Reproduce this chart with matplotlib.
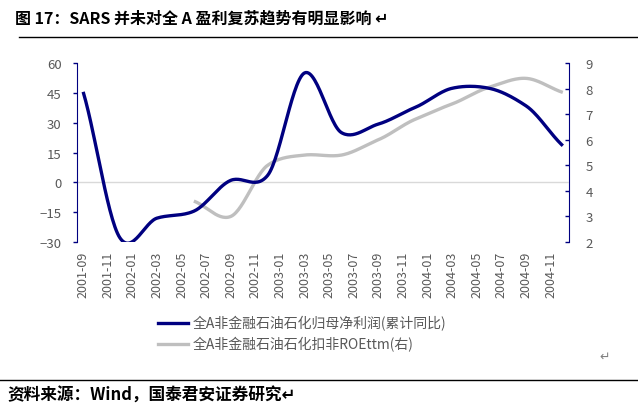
import numpy as np
import matplotlib.pyplot as plt
from matplotlib.lines import Line2D

plt.rcParams['font.family'] = ['Noto Sans CJK SC', 'DejaVu Sans']

## Donnees

mois = ["2001-09", "2001-11", "2002-01", "2002-03", "2002-05", "2002-07", "2002-09",
        "2002-11", "2003-01", "2003-03", "2003-05", "2003-07", "2003-09", "2003-11",
        "2004-01", "2004-03", "2004-05", "2004-07", "2004-09", "2004-11"]

# index mensuel depuis 2001-09
x_profit = [0, 3, 6, 9, 12, 15, 18, 21, 24, 27, 30, 33, 36, 39]
profit = [45.5, -28.0, -18.0, -14.5, 1.0, 3.5, 55.0, 25.0, 29.3, 37.7, 47.3, 47.3, 38.5, 18.4]

x_roe = [9, 12, 15, 18, 21, 24, 27, 30, 33, 36, 39]
roe = [3.6, 3.0, 5.0, 5.4, 5.4, 6.0, 6.8, 7.4, 8.05, 8.4, 7.85]

bleu = "#000080"
gris = "#BFBFBF"
texte = "#595959"

## Lissage facon Excel (Hermite, tension reduite)

def lisse(x, y, k=0.85, n=30):
    x = np.asarray(x, float)
    y = np.asarray(y, float)
    m = np.zeros(len(y))
    m[1:-1] = k * (y[2:] - y[:-2]) / 2
    m[0] = k * (y[1] - y[0])
    m[-1] = k * (y[-1] - y[-2])
    t = np.linspace(0, 1, n)
    h00 = 2*t**3 - 3*t**2 + 1
    h10 = t**3 - 2*t**2 + t
    h01 = -2*t**3 + 3*t**2
    h11 = t**3 - t**2
    xs = []
    ys = []
    for i in range(len(y) - 1):
        xs.extend(x[i] + t * (x[i+1] - x[i]))
        ys.extend(h00*y[i] + h10*m[i] + h01*y[i+1] + h11*m[i+1])
    return (np.array(xs), np.array(ys))

## Figure

fig = plt.figure(figsize=(6.38, 4.14), dpi=100)

fig.text(0.024, 0.955, "图 17：SARS 并未对全 A 盈利复苏趋势有明显影响 ↵", fontsize=11.5,
         fontweight="bold", va="center", ha="left", color="black")
fig.add_artist(Line2D([0.03, 1.0], [0.908, 0.908], color="black", lw=1.0))

ax = fig.add_axes([0.1207, 0.413, 0.7711, 0.4324])
ax2 = ax.twinx()

(xs, ys) = lisse(x_profit, profit)
ax.plot(xs, ys, color=bleu, lw=2.4, solid_capstyle="butt", zorder=3)
(xs2, ys2) = lisse(x_roe, roe)
ax2.plot(xs2, ys2, color=gris, lw=2.4, solid_capstyle="butt", zorder=2)

ax.set_zorder(ax2.get_zorder() + 1)
ax.patch.set_visible(False)

ax.axhline(0, color="#D9D9D9", lw=1.0, zorder=1)

ax.set_xlim(-0.5, 39.5)
ax.set_ylim(-30, 60)
ax.set_yticks([-30, -15, 0, 15, 30, 45, 60])
ax2.set_ylim(2, 9)
ax2.set_yticks(range(2, 10))

ax.set_xticks(range(0, 40, 2))
ax.set_xticklabels(mois, rotation=90, fontsize=9, color=texte)
ax.tick_params(axis="x", length=0, pad=6)
ax.tick_params(axis="y", colors=texte, labelsize=9.5, length=3, width=1, color=bleu, pad=8)
ax2.tick_params(axis="y", colors=texte, labelsize=9.5, length=3, width=1, color=bleu,
                direction="in", pad=12)

for a in (ax, ax2):
    a.spines["top"].set_visible(False)
    a.spines["bottom"].set_visible(False)
    a.spines["left"].set_visible(False)
    a.spines["right"].set_visible(False)
ax.spines["left"].set_visible(True)
ax.spines["left"].set_color(bleu)
ax2.spines["right"].set_visible(True)
ax2.spines["right"].set_color(bleu)

## Legende

fig.add_artist(Line2D([0.248, 0.295], [0.218, 0.218], color=bleu, lw=2.4))
fig.add_artist(Line2D([0.248, 0.295], [0.167, 0.167], color=gris, lw=2.4))
fig.text(0.302, 0.218, "全A非金融石油石化归母净利润(累计同比)", fontsize=10,
         color=texte, va="center")
fig.text(0.302, 0.167, "全A非金融石油石化扣非ROEttm(右)", fontsize=10,
         color=texte, va="center")
fig.text(0.94, 0.137, "↵", fontsize=9, color="#808080", va="center")

## Source

fig.add_artist(Line2D([0.0, 1.0], [0.08, 0.08], color="black", lw=1.0))
fig.text(0.012, 0.045, "资料来源：Wind，国泰君安证券研究↵", fontsize=12,
         fontweight="bold", va="center", ha="left", color="black")

plt.savefig("out.png", dpi=100)
